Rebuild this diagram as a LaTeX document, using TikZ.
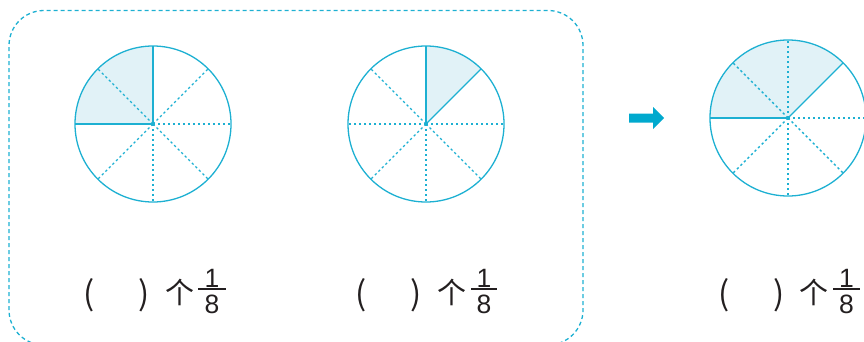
\documentclass[tikz,border=0pt]{standalone}
\usepackage{fontspec}
\newfontfamily\cjk{Noto Sans CJK SC}
\newfontfamily\numf{Liberation Sans}
\definecolor{lineblue}{HTML}{1DB0D2}
\definecolor{shadeblue}{HTML}{E1F2F7}
\definecolor{arrowblue}{HTML}{00A9CE}
\definecolor{textgray}{HTML}{231F20}
\begin{document}
\begin{tikzpicture}[x=1pt,y=1pt,
  disk/.style={circle,draw=lineblue,line width=1.3pt,minimum size=156pt,inner sep=0pt,outer sep=0pt},
  solidr/.style={draw=lineblue,line width=1.3pt},
  dotr/.style={draw=lineblue,line width=1.4pt,dash pattern=on 2.3pt off 2.7pt},
  sector/.style={fill=shadeblue},
  ctr/.style={circle,fill=lineblue,inner sep=0pt,minimum size=3.5pt},
  boxline/.style={draw=lineblue,line width=1.3pt,dash pattern=on 4pt off 3pt,rounded corners=35pt},
  paren/.style={font=\cjk\fontsize{33}{33}\selectfont,text=textgray,inner sep=0pt},
  ge/.style={font=\cjk\fontsize{29}{29}\selectfont,text=textgray,inner sep=0pt},
  digit/.style={font=\numf\fontsize{26.5}{26.5}\selectfont,text=textgray,inner sep=0pt},
  fbar/.style={draw=textgray,line width=2pt},
]
\useasboundingbox (0,0) rectangle (864,341);

% dashed group box
\draw[boxline] (9,-4) rectangle (583,330.5);

% ---------- circle 1 ----------
\fill[sector] (153,217) -- ++(90:78) arc[start angle=90,end angle=180,radius=78] -- cycle;
\node[disk] (c1) at (153,217) {};
\foreach \a in {0,45,135,225,270,315} \draw[dotr] (c1.center) -- (c1.\a);
\draw[solidr] (c1.center) -- (c1.90);
\draw[solidr] (c1.center) -- (c1.180);
\node[ctr] (c1m) at (c1.center) {};

% ---------- circle 2 ----------
\fill[sector] (426,217) -- ++(45:78) arc[start angle=45,end angle=90,radius=78] -- cycle;
\node[disk] (c2) at (426,217) {};
\foreach \a in {0,135,180,225,270,315} \draw[dotr] (c2.center) -- (c2.\a);
\draw[solidr] (c2.center) -- (c2.90);
\draw[solidr] (c2.center) -- (c2.45);
\node[ctr] (c2m) at (c2.center) {};

% ---------- circle 3 ----------
\fill[sector] (788,223) -- ++(45:78) arc[start angle=45,end angle=180,radius=78] -- cycle;
\node[disk] (c3) at (788,223) {};
\foreach \a in {0,90,135,225,270,315} \draw[dotr] (c3.center) -- (c3.\a);
\draw[solidr] (c3.center) -- (c3.45);
\draw[solidr] (c3.center) -- (c3.180);
\node[ctr] (c3m) at (c3.center) {};

% ---------- arrow ----------
\fill[arrowblue] (629,227.5) -- (653,227.5) -- (653,234) -- (664,223) -- (653,212) -- (653,218.5) -- (629,218.5) -- cycle;

% ---------- labels ----------
% group 1
\node[paren] (l1a) at (89,46) {(};
\node[paren] (l1b) at (144,46) {)};
\node[ge] (g1) at (180,48.5) {个};
\node[digit] (n1) at (212,63) {1};
\node[digit] (d1) at (212,36.5) {8};
\coordinate (b1l) at (198,52);
\coordinate (b1r) at (226,52);
\draw[fbar] (b1l) -- (b1r);
% group 2
\node[paren] (l2a) at (361,46) {(};
\node[paren] (l2b) at (416,46) {)};
\node[ge] (g2) at (451.5,48.5) {个};
\node[digit] (n2) at (484,63) {1};
\node[digit] (d2) at (484,36.5) {8};
\coordinate (b2l) at (471,52);
\coordinate (b2r) at (497,52);
\draw[fbar] (b2l) -- (b2r);
% group 3
\node[paren] (l3a) at (724,46) {(};
\node[paren] (l3b) at (779,46) {)};
\node[ge] (g3) at (814,48.5) {个};
\node[digit] (n3) at (846.5,63) {1};
\node[digit] (d3) at (846.5,36.5) {8};
\coordinate (b3l) at (833,52);
\coordinate (b3r) at (860,52);
\draw[fbar] (b3l) -- (b3r);
\end{tikzpicture}
\end{document}
